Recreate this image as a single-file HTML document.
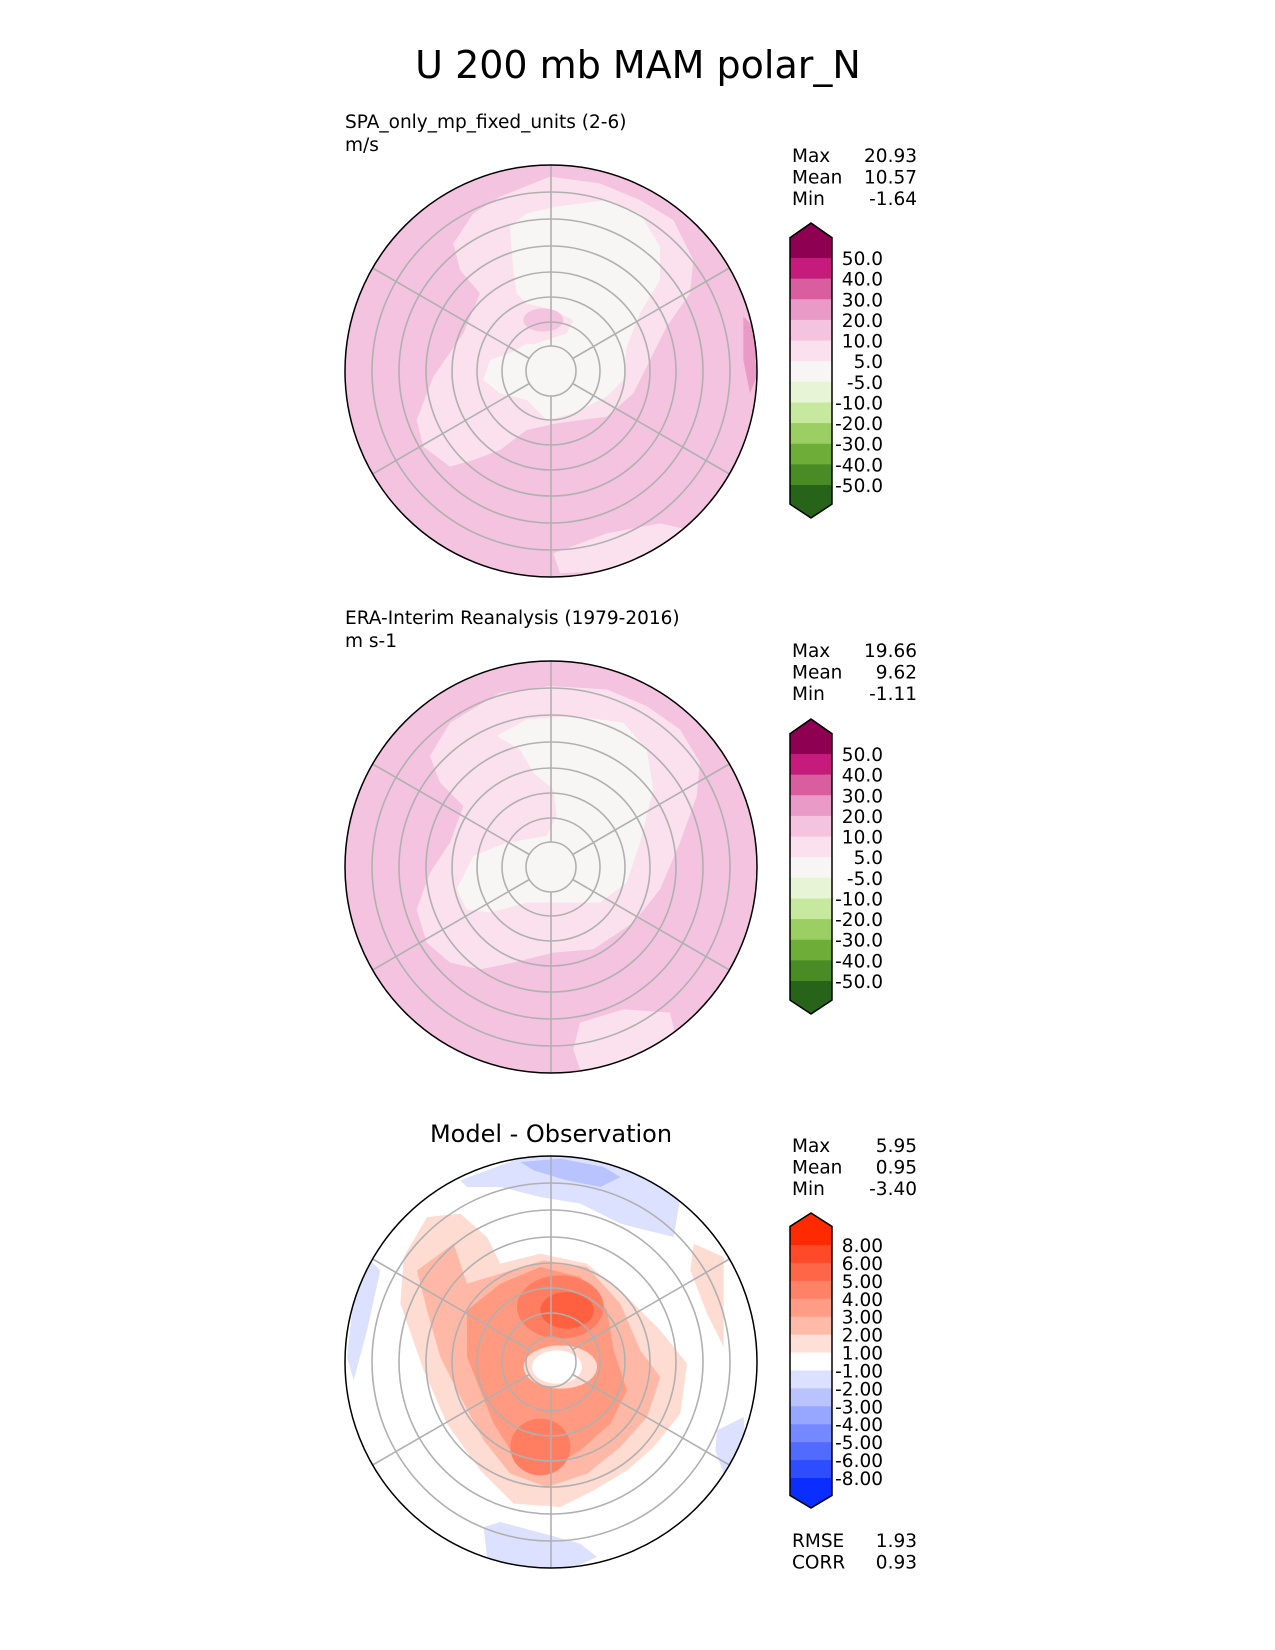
<!DOCTYPE html>
<html><head><meta charset="utf-8"><style>
html,body{margin:0;padding:0;background:#fff;}
svg{display:block;font-family:"DejaVu Sans","Liberation Sans",sans-serif;}
</style></head><body>
<svg id="fig" width="1275" height="1650" viewBox="0 0 1275 1650" xmlns="http://www.w3.org/2000/svg">
<defs>
<clipPath id="c1"><circle cx="551" cy="371" r="206"/></clipPath>
<clipPath id="c2"><circle cx="551" cy="867" r="206"/></clipPath>
<clipPath id="c3"><circle cx="551" cy="1362" r="206"/></clipPath>
</defs>
<text x="638" y="78" font-size="38" text-anchor="middle">U 200 mb MAM polar_N</text>

<!-- Panel 1 -->
<text x="345" y="128" font-size="18.5">SPA_only_mp_fixed_units (2-6)</text>
<text x="345" y="151" font-size="18.5">m/s</text>
<g clip-path="url(#c1)">
<circle cx="551" cy="371" r="206" fill="#f4c3df"/>
<g transform="translate(340,160) scale(0.33333)">
<polygon fill="#e99ac6" points="1210,470 1240,500 1250,650 1230,700 1210,600"/>
<polygon fill="#fbe0ee" points="340,250 400,160 480,110 630,50 780,70 900,120 1000,180 1060,300 1050,400 980,500 930,600 880,700 800,770 650,790 560,810 480,870 400,900 330,920 250,860 230,780 280,650 370,520 420,400 360,330"/>
<polygon fill="#fbe0ee" points="640,1180 800,1120 960,1090 1050,1110 1000,1180 850,1230 660,1240"/>
<polygon fill="#f7f6f4" points="510,200 560,160 650,140 800,120 900,160 960,260 960,360 900,460 860,560 850,660 800,710 700,760 620,780 560,720 480,700 430,660 450,600 560,560 680,520 700,480 640,450 560,430 530,400 520,330"/>
<polygon fill="#f7f6f4" points="480,600 560,550 640,560 660,620 640,700 560,720 500,700"/>
<ellipse fill="#f4c3df" cx="610" cy="480" rx="60" ry="35"/>
</g>
</g>

<!-- Panel 2 -->
<text x="345" y="624" font-size="18.5">ERA-Interim Reanalysis (1979-2016)</text>
<text x="345" y="647" font-size="18.5">m s-1</text>
<g clip-path="url(#c2)">
<circle cx="551" cy="867" r="206" fill="#f4c3df"/>
<g transform="translate(340,656) scale(0.33333)">
<polygon fill="#fbe0ee" points="270,300 330,200 480,110 630,90 800,100 920,150 1020,220 1080,320 1070,420 1020,560 960,700 880,800 760,880 640,890 520,920 420,940 330,920 260,860 230,760 270,650 330,560 370,450 300,380"/>
<polygon fill="#fbe0ee" points="720,1100 850,1060 990,1070 1010,1150 900,1230 720,1240 700,1180"/>
<polygon fill="#f7f6f4" points="470,240 560,190 700,180 850,200 920,280 940,400 900,560 860,680 780,740 640,740 560,740 450,770 380,760 350,700 400,600 500,560 620,540 650,480 640,400 580,350 540,280"/>
</g>
</g>

<!-- Panel 3 -->
<text x="551" y="1142" font-size="24" text-anchor="middle">Model - Observation</text>
<g clip-path="url(#c3)">
<circle cx="551" cy="1362" r="206" fill="#ffffff"/>
<g transform="translate(327,1097) scale(0.33333)">
<polygon fill="#dce1ff" points="400,250 560,190 680,170 850,190 1000,260 1060,300 1040,420 960,400 880,380 760,320 640,300 520,270 420,270"/>
<polygon fill="#b9c3ff" points="580,195 700,185 830,210 880,240 820,270 720,250 620,220"/>
<polygon fill="#dce1ff" points="80,600 130,490 160,520 120,700 80,850 60,780"/>
<polygon fill="#dce1ff" points="470,1290 520,1275 650,1310 760,1340 810,1380 720,1420 560,1410 480,1380"/>
<polygon fill="#dce1ff" points="1170,1000 1250,960 1260,1080 1190,1130 1165,1060"/>
<polygon fill="#ffdcd2" points="1100,440 1190,480 1190,750 1140,650 1090,520"/>
<polygon fill="#ffdcd2" points="230,480 300,360 400,350 480,420 520,500 640,470 780,500 900,600 1000,700 1080,800 1060,950 980,1050 900,1120 800,1180 700,1230 560,1220 460,1120 360,980 290,820 220,620"/>
<polygon fill="#ffb8a5" points="270,520 380,440 420,560 520,530 650,490 780,510 880,620 940,760 1000,840 960,960 880,1050 780,1130 660,1170 550,1130 470,1030 400,900 340,780 300,640"/>
<polygon fill="#ff9a80" points="420,640 520,560 640,510 760,540 840,640 860,760 900,880 850,980 760,1060 660,1120 570,1090 500,980 460,880 420,780"/>
<ellipse fill="#ff7d60" cx="700" cy="630" rx="130" ry="95"/>
<ellipse fill="#ff6040" cx="720" cy="640" rx="80" ry="55"/>
<ellipse fill="#ff7d60" cx="640" cy="1050" rx="90" ry="85"/>
<ellipse fill="#ffdcd2" cx="700" cy="810" rx="110" ry="65"/>
<ellipse fill="#ffffff" cx="690" cy="810" rx="75" ry="50"/>
</g>
</g>

<g id="grids"></g>
<g id="cbars"></g>
<g id="stats"></g>
</svg>
<script>
// Colorbar levels (data)
var fieldLevels = ["50.0","40.0","30.0","20.0","10.0","5.0","-5.0","-10.0","-20.0","-30.0","-40.0","-50.0"];
var fieldColors = ["#8e0152","#c51b7d","#d95ea0","#e99ac6","#f4c3df","#fbe0ee","#f7f6f4","#e7f4d5","#c7e89f","#9ccf63","#6dad38","#4a8b25","#276419"];
var diffLevels = ["8.00","6.00","5.00","4.00","3.00","2.00","1.00","-1.00","-2.00","-3.00","-4.00","-5.00","-6.00","-8.00"];
var diffColors = ["#ff2a00","#ff4a2a","#ff6647","#ff8166","#ff9c85","#ffbaa8","#ffe0d8","#ffffff","#dce1ff","#b9c3ff","#97a6ff","#7489ff","#516bff","#2e4dff","#0a2eff"];
// Statistics
var statLabels = ["Max","Mean","Min"];
var stats1 = ["20.93","10.57","-1.64"];
var stats2 = ["19.66","9.62","-1.11"];
var stats3 = ["5.95","0.95","-3.40"];
var scoreLabels = ["RMSE","CORR"];
var scoreValues = ["1.93","0.93"];
// Latitude grid rings (radii in px for 80..10 N)
var ringRadii = [25,49,74,99,125,152,179];
var meridianAngles = [30,90,150,210,270,330];

var NS="http://www.w3.org/2000/svg";
function mk(tag,attrs,parent){var e=document.createElementNS(NS,tag);for(var k in attrs)e.setAttribute(k,attrs[k]);parent.appendChild(e);return e;}

var centers=[[551,371],[551,867],[551,1362]];
var grids=document.getElementById('grids');
centers.forEach(function(c,pi){
  var g=mk('g',{},grids);
  
  
  ringRadii.forEach(function(r){
    var e=mk('circle',{cx:c[0],cy:c[1],r:r,fill:'none',stroke:'#b0b0b0','stroke-width':1.6},g);
    
    
  });
  meridianAngles.forEach(function(a){
    var t=a*Math.PI/180;
    var e=mk('line',{x1:c[0]+25*Math.cos(t),y1:c[1]-25*Math.sin(t),x2:c[0]+206*Math.cos(t),y2:c[1]-206*Math.sin(t),stroke:'#b0b0b0','stroke-width':1.6},g);
    
    
  });
  var o=mk('circle',{cx:c[0],cy:c[1],r:206,fill:'none',stroke:'#000','stroke-width':1.5},g);
  
  
});

var cb=document.getElementById('cbars');
function colorbar(x0,x1,tip,top,bot,btip,levels,colors,name){
  var g=mk('g',{},cb);
  
  
  var n=levels.length-1, h=(bot-top)/n, xm=(x0+x1)/2, sh=(top-tip)*0.42;
  var p=mk('polygon',{points:[xm+','+tip,x1+','+(tip+sh),x1+','+top,x0+','+top,x0+','+(tip+sh)].join(' '),fill:colors[0]},g);
  
  
  for(var i=0;i<n;i++){
    var r=mk('rect',{x:x0,y:top+i*h,width:x1-x0,height:h+0.5,fill:colors[i+1]},g);
    
    
  }
  var sb=(btip-bot)*0.42;
  var q=mk('polygon',{points:[x0+','+bot,x1+','+bot,x1+','+(btip-sb),xm+','+btip,x0+','+(btip-sb)].join(' '),fill:colors[colors.length-1]},g);
  
  
  var ol=mk('polygon',{points:[xm+','+tip,x1+','+(tip+sh),x1+','+(btip-sb),xm+','+btip,x0+','+(btip-sb),x0+','+(tip+sh)].join(' '),fill:'none',stroke:'#000','stroke-width':1.5},g);
  
  
  levels.forEach(function(l,i){
    var t=mk('text',{x:883,y:top+i*h+7,'font-size':18.5,'text-anchor':'end'},g);
    t.textContent=l;
    
    
  });
}
colorbar(790,832,223,258,485,518,fieldLevels,fieldColors,'colorbar-panel1');
colorbar(790,832,719,754,981,1014,fieldLevels,fieldColors,'colorbar-panel2');
colorbar(790,832,1213,1245,1478,1508,diffLevels,diffColors,'colorbar-panel3');

var st=document.getElementById('stats');
function statBlock(y0,vals,name,labels){
  var g=mk('g',{},st);
  
  
  labels.forEach(function(l,i){
    var a=mk('text',{x:792,y:y0+i*21.5,'font-size':18.5},g);
    a.textContent=l;
    
    
    var b=mk('text',{x:917,y:y0+i*21.5,'font-size':18.5,'text-anchor':'end'},g);
    b.textContent=vals[i];
    
    
  });
}
statBlock(162,stats1,'stats-panel1',statLabels);
statBlock(657,stats2,'stats-panel2',statLabels);
statBlock(1152,stats3,'stats-panel3',statLabels);
statBlock(1547,scoreValues,'scores-panel3',scoreLabels);
</script>
</body></html>
